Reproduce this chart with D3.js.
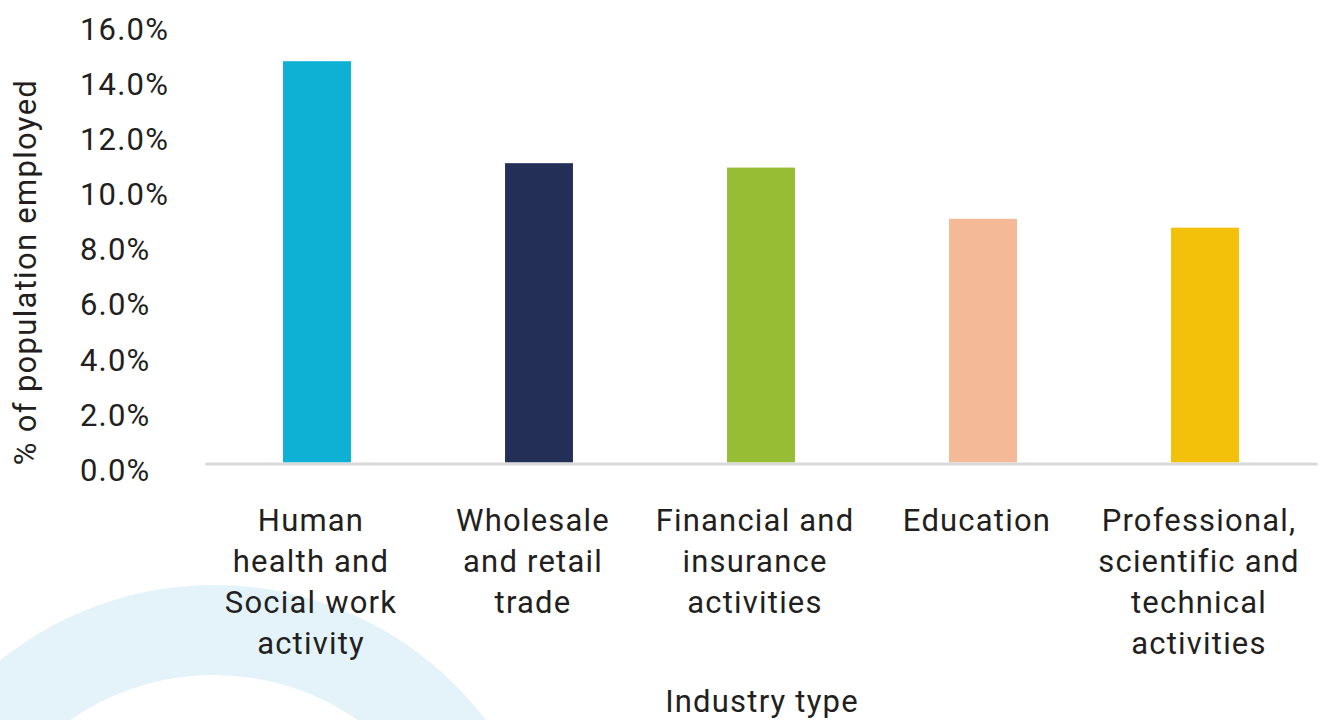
<!DOCTYPE html>
<html><head><meta charset="utf-8">
<script src="https://cdn.jsdelivr.net/npm/d3@7"></script>
<style>html,body{margin:0;padding:0;background:#fff;}svg{display:block;}</style>
</head><body>
<svg id="chart" width="1320" height="720"></svg>
<script>
const categories = [
  ["Human","health and","Social work","activity"],
  ["Wholesale","and retail","trade"],
  ["Financial and","insurance","activities"],
  ["Education"],
  ["Professional,","scientific and","technical","activities"]
];
const categoryKeys = ["Human health and Social work activity","Wholesale and retail trade","Financial and insurance activities","Education","Professional, scientific and technical activities"];
const values = [14.56, 10.86, 10.70, 8.84, 8.52];
const colors = ["#0eb0d3","#232f56","#97bd34","#f4b996","#f3c10a"];
const yTicks = [0,2,4,6,8,10,12,14,16];
const yTitle = "% of population employed";
const xTitle = "Industry type";

const svg = d3.select("#chart");
const font = "Roboto, 'Noto Sans', sans-serif";
const textColor = "#231f20";

// decorative background ring
const arc = d3.arc()({innerRadius:251, outerRadius:341, startAngle:0, endAngle:2*Math.PI});
svg.append("path").attr("d", arc).attr("transform","translate(214,926)").attr("fill","#e3f3f9");

const x = d3.scaleBand().domain(categoryKeys).range([206,1316]).paddingInner(0.694).paddingOuter(0.347);
const y = d3.scaleLinear().domain([0,16]).range([462.5, 21.5]);

svg.selectAll("rect.bar").data(values).join("rect")
  .attr("class","bar")
  .attr("x",(d,i)=>x(categoryKeys[i]))
  .attr("width",x.bandwidth())
  .attr("y",d=>y(d))
  .attr("height",d=>y(0)-y(d))
  .attr("fill",(d,i)=>colors[i]);

// x axis line
const xAxis = d3.axisBottom(x).tickSize(0).tickFormat("");
const gx = svg.append("g").attr("transform","translate(0,463.5)").call(xAxis);
gx.select(".domain").attr("stroke","#d9d9d9").attr("stroke-width",3).attr("stroke-linecap","round");

// y axis labels (left aligned)
const yAxis = d3.axisLeft(y).tickValues(yTicks).tickSize(0).tickFormat(d=>d3.format(".1f")(d)+"%");
const gy = svg.append("g").attr("transform","translate(80,0)").call(yAxis);
gy.select(".domain").remove();
gy.selectAll("text").attr("text-anchor","start").attr("x",0).attr("dy","0.35em")
  .attr("transform","translate(0,7)")
  .attr("font-family",font).attr("font-size",31).attr("letter-spacing",1.2).attr("fill",textColor);

// category labels
const lab = svg.append("g");
categories.forEach((lines,i)=>{
  const t = lab.append("text").attr("text-anchor","middle")
    .attr("font-family",font).attr("font-size",31).attr("letter-spacing",1.2).attr("fill",textColor);
  lines.forEach((ln,j)=>{
    t.append("tspan").attr("x",x(categoryKeys[i])+x.bandwidth()/2-6).attr("y",531+j*41).text(ln);
  });
});

svg.append("text").attr("x",762).attr("y",712).attr("text-anchor","middle")
  .attr("font-family",font).attr("font-size",31).attr("letter-spacing",1.2).attr("fill",textColor).text(xTitle);

svg.append("text").attr("transform","translate(36,272) rotate(-90)").attr("text-anchor","middle")
  .attr("font-family",font).attr("font-size",31).attr("letter-spacing",1.3).attr("fill",textColor).text(yTitle);
</script>
</body></html>
